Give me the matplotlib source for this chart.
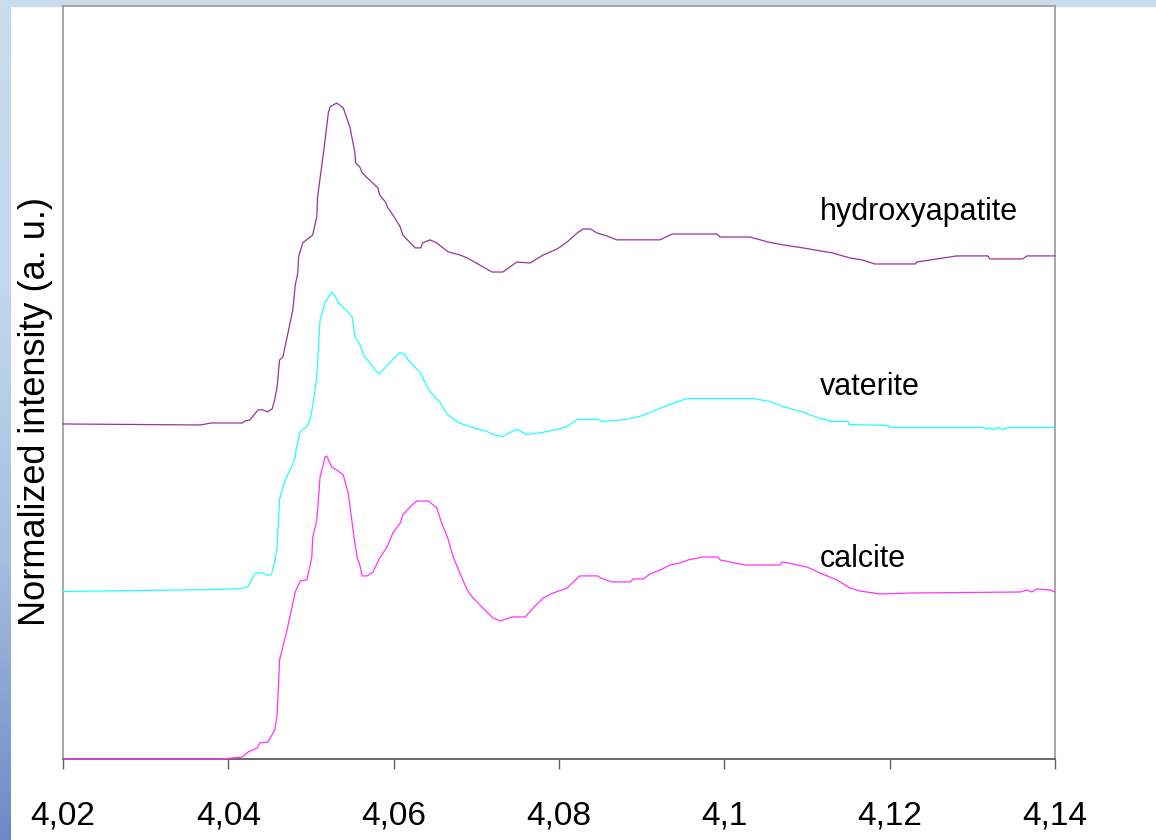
import numpy as np
import matplotlib
matplotlib.use('Agg')
import matplotlib.pyplot as plt
from matplotlib.colors import LinearSegmentedColormap
from matplotlib.ticker import FixedLocator, FixedFormatter

# energy (keV) and normalized intensity
calcite_e = [4.0200, 4.0392, 4.0417, 4.0424, 4.0435, 4.0438, 4.0448, 4.0456, 4.0459, 4.0462,
             4.0471, 4.0481, 4.0487, 4.0495, 4.0501, 4.0502, 4.0507, 4.0511, 4.0517, 4.0519,
             4.0525, 4.0531, 4.0539, 4.0545, 4.0553, 4.0556, 4.0559, 4.0562, 4.0568, 4.0575,
             4.0583, 4.0592, 4.0599, 4.0608, 4.0611, 4.0622, 4.0628, 4.0642, 4.0652, 4.0658,
             4.0665, 4.0672, 4.0680, 4.0689, 4.0695, 4.0708, 4.0720, 4.0729, 4.0743, 4.0759,
             4.0771, 4.0781, 4.0793, 4.0810, 4.0816, 4.0825, 4.0847, 4.0850, 4.0864, 4.0886,
             4.0890, 4.0902, 4.0910, 4.0925, 4.0934, 4.0946, 4.0956, 4.0974, 4.0992, 4.0995,
             4.1007, 4.1025, 4.1043, 4.1067, 4.1070, 4.1083, 4.1100, 4.1116, 4.1136, 4.1152,
             4.1164, 4.1188, 4.1228, 4.1358, 4.1366, 4.1372, 4.1378, 4.1394, 4.1400]
calcite_i = [0.000, 0.000, 0.012, 0.042, 0.066, 0.096, 0.101, 0.173, 0.263, 0.591,
             0.770, 0.997, 1.063, 1.069, 1.206, 1.319, 1.427, 1.684, 1.803, 1.809,
             1.743, 1.725, 1.696, 1.588, 1.290, 1.200, 1.158, 1.093, 1.093, 1.116,
             1.200, 1.266, 1.349, 1.409, 1.457, 1.516, 1.540, 1.540, 1.499, 1.409,
             1.325, 1.206, 1.110, 1.009, 0.967, 0.901, 0.842, 0.824, 0.848, 0.848,
             0.913, 0.961, 0.991, 1.021, 1.051, 1.093, 1.093, 1.081, 1.057, 1.057,
             1.075, 1.075, 1.104, 1.134, 1.158, 1.170, 1.188, 1.206, 1.206, 1.188,
             1.176, 1.158, 1.158, 1.158, 1.176, 1.164, 1.146, 1.110, 1.069, 1.021,
             1.003, 0.985, 0.991, 0.997, 1.009, 0.997, 1.015, 1.009, 0.997]

vaterite_e = [4.0200, 4.0390, 4.0417, 4.0424, 4.0432, 4.0441, 4.0447, 4.0452, 4.0456, 4.0459,
              4.0462, 4.0469, 4.0475, 4.0481, 4.0482, 4.0487, 4.0495, 4.0499, 4.0502, 4.0507,
              4.0511, 4.0517, 4.0525, 4.0529, 4.0533, 4.0544, 4.0550, 4.0553, 4.0559, 4.0565,
              4.0568, 4.0580, 4.0583, 4.0599, 4.0608, 4.0614, 4.0617, 4.0632, 4.0642, 4.0656,
              4.0665, 4.0678, 4.0695, 4.0713, 4.0720, 4.0732, 4.0743, 4.0749, 4.0761, 4.0779,
              4.0798, 4.0810, 4.0822, 4.0846, 4.0853, 4.0882, 4.0898, 4.0919, 4.0934, 4.0955,
              4.1035, 4.1055, 4.1071, 4.1092, 4.1116, 4.1131, 4.1150, 4.1151, 4.1198, 4.1200,
              4.1313, 4.1318, 4.1321, 4.1325, 4.1331, 4.1337, 4.1343, 4.1400]
vaterite_i = [0.000, 0.012, 0.018, 0.030, 0.107, 0.113, 0.096, 0.101, 0.173, 0.269,
              0.549, 0.669, 0.728, 0.800, 0.848, 0.955, 0.985, 1.027, 1.104, 1.284,
              1.624, 1.725, 1.785, 1.767, 1.725, 1.672, 1.636, 1.522, 1.475, 1.397,
              1.385, 1.307, 1.301, 1.385, 1.427, 1.415, 1.385, 1.307, 1.206, 1.128,
              1.057, 1.009, 0.979, 0.955, 0.937, 0.925, 0.955, 0.967, 0.937, 0.949,
              0.967, 0.985, 1.027, 1.027, 1.015, 1.027, 1.045, 1.087, 1.116, 1.152,
              1.152, 1.134, 1.104, 1.075, 1.033, 1.015, 1.015, 0.997, 0.991, 0.979,
              0.979, 0.967, 0.979, 0.967, 0.979, 0.967, 0.979, 0.979]

hap_e = [4.0200, 4.0366, 4.0380, 4.0417, 4.0420, 4.0426, 4.0436, 4.0442, 4.0447, 4.0453,
         4.0456, 4.0459, 4.0462, 4.0466, 4.0478, 4.0481, 4.0484, 4.0485, 4.0490, 4.0502,
         4.0507, 4.0508, 4.0516, 4.0521, 4.0523, 4.0531, 4.0539, 4.0547, 4.0553, 4.0554,
         4.0559, 4.0562, 4.0568, 4.0581, 4.0583, 4.0590, 4.0593, 4.0599, 4.0608, 4.0611,
         4.0626, 4.0633, 4.0635, 4.0644, 4.0652, 4.0666, 4.0680, 4.0689, 4.0704, 4.0719,
         4.0732, 4.0744, 4.0749, 4.0765, 4.0781, 4.0798, 4.0810, 4.0822, 4.0829, 4.0838,
         4.0846, 4.0858, 4.0870, 4.0922, 4.0937, 4.0991, 4.0995, 4.1031, 4.1052, 4.1071,
         4.1095, 4.1116, 4.1131, 4.1152, 4.1167, 4.1182, 4.1231, 4.1233, 4.1257, 4.1281,
         4.1319, 4.1321, 4.1361, 4.1366, 4.1400]
hap_i = [0.000, -0.006, 0.006, 0.006, 0.018, 0.024, 0.084, 0.084, 0.072, 0.090,
         0.143, 0.221, 0.382, 0.400, 0.681, 0.830, 0.901, 0.997, 1.081, 1.128,
         1.236, 1.355, 1.654, 1.857, 1.893, 1.916, 1.887, 1.773, 1.624, 1.558,
         1.534, 1.499, 1.469, 1.409, 1.367, 1.325, 1.290, 1.248, 1.176, 1.128,
         1.051, 1.051, 1.081, 1.099, 1.081, 1.027, 1.009, 0.991, 0.949, 0.907,
         0.907, 0.949, 0.967, 0.961, 1.009, 1.045, 1.087, 1.140, 1.164, 1.164,
         1.140, 1.122, 1.099, 1.099, 1.134, 1.134, 1.116, 1.116, 1.087, 1.069,
         1.051, 1.033, 1.021, 0.991, 0.979, 0.955, 0.955, 0.967, 0.985, 1.003,
         1.003, 0.985, 0.985, 1.003, 1.003]

offsets = [0.0, 1.0, 2.0]
names = ['calcite', 'vaterite', 'hydroxyapatite']
xticks = [4.02, 4.04, 4.06, 4.08, 4.10, 4.12, 4.14]
xticklabels = ['4,02', '4,04', '4,06', '4,08', '4,1', '4,12', '4,14']

plt.rcParams['font.family'] = ['Liberation Sans', 'DejaVu Sans']

fig = plt.figure(figsize=(11.56, 8.40), dpi=100)
fig.patch.set_facecolor('white')

# light blue frame of the slide: strip on top, gradient strip on the left
W, H = 1156.0, 840.0
fig.add_artist(plt.Rectangle((0, 1 - 6 / H), 1, 6 / H, transform=fig.transFigure,
                             color='#c8dcec', zorder=0))
bg = fig.add_axes([0, 0, 11 / W, 1 - 6 / H])
cmap = LinearSegmentedColormap.from_list('slide', ['#c8dcec', '#c2d8eb', '#a4bee0', '#6a8ac6'])
bg.imshow(np.linspace(0, 1, 256).reshape(-1, 1), aspect='auto', cmap=cmap)
bg.set_axis_off()

ax = fig.add_axes([63 / W, 1 - 759 / H, 992 / W, 753 / H])
colors = ['#ff33ff', '#22ffff', '#993399']
series = [(calcite_e, calcite_i), (vaterite_e, vaterite_i), (hap_e, hap_i)]
for (e, i), off, c in zip(series, offsets, colors):
    ax.plot(e, np.array(i) + off, color=c, lw=0.9, zorder=3, clip_on=False)

ax.set_xlim(4.02, 4.14)
ax.set_ylim(0, 4.495)

label_pos = [(4.1116, 1.146), (4.1116, 2.173), (4.1116, 3.218)]
for (x, y), name in zip(label_pos, names):
    ax.text(x, y, name, fontsize=22, va='baseline', ha='left')

ax.xaxis.set_major_locator(FixedLocator(xticks))
ax.xaxis.set_major_formatter(FixedFormatter(xticklabels))
ax.tick_params(axis='x', direction='out', length=7, width=1, color='#606060',
               labelsize=24, pad=23)
ax.set_yticks([])

for s in ['top', 'right', 'left']:
    ax.spines[s].set_color('#a0a0a0')
    ax.spines[s].set_linewidth(1.3)
ax.spines['bottom'].set_color('#505050')
ax.spines['bottom'].set_linewidth(1.2)

ax.set_ylabel('Normalized intensity (a. u.)', fontsize=26, va='center')
ax.yaxis.set_label_coords(-0.028, 0.462)

plt.savefig('out.png', dpi=100)
